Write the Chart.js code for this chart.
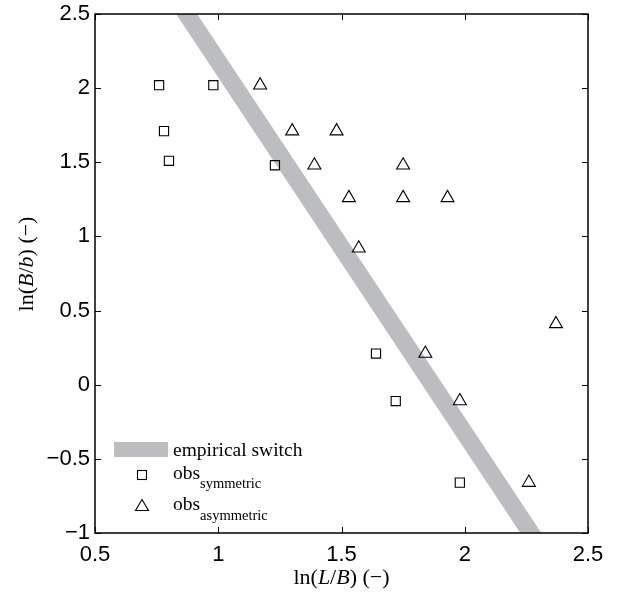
<!DOCTYPE html>
<html lang="en">
<head>
  <meta charset="UTF-8">
  <title>ln(B/b) vs ln(L/B)</title>
  <script src="https://cdn.jsdelivr.net/npm/chart.js"></script>
  <style>
    html, body { margin: 0; padding: 0; background: #fff; }
    #wrap { width: 620px; height: 594px; position: relative; }
  </style>
</head>
<body>
  <div id="wrap"><canvas id="chart"></canvas></div>
  <script>
    // empirical switch band (straight line, clipped by the axes)
    const bandX = [0.752, 2.388];
    const bandY = [2.8, -1.3];

    // observations, symmetric (squares)
    const symX = [0.76, 0.98, 0.78, 0.80, 1.23, 1.64, 1.72, 1.98];
    const symY = [2.02, 2.02, 1.71, 1.51, 1.48, 0.21, -0.11, -0.66];

    // observations, asymmetric (triangles)
    const asymX = [1.17, 1.30, 1.48, 1.39, 1.53, 1.75, 1.75, 1.93, 1.57, 2.37, 1.84, 1.98, 2.26];
    const asymY = [2.02, 1.71, 1.71, 1.48, 1.26, 1.48, 1.26, 1.26, 0.92, 0.41, 0.21, -0.11, -0.66];

    const xTicks = [0.5, 1, 1.5, 2, 2.5];
    const yTicks = [-1, -0.5, 0, 0.5, 1, 1.5, 2, 2.5];

    const bandColor = '#bcbdc0';
    const serif = '"Liberation Serif", "Times New Roman", serif';
    const sans = '"Liberation Sans", Arial, sans-serif';

    const toPts = (xs, ys) => xs.map((x, i) => ({ x: x, y: ys[i] }));
    const fmt = v => String(v).replace('-', '\u2212');

    // draw a string made of [text, italic] pieces, centred on (cx, cy)
    function drawRich(ctx, parts, cx, cy, size, angle) {
      ctx.save();
      ctx.translate(cx, cy);
      ctx.rotate(angle || 0);
      let total = 0;
      parts.forEach(p => {
        ctx.font = (p[1] ? 'italic ' : '') + size + 'px ' + serif;
        total += ctx.measureText(p[0]).width;
      });
      let x = -total / 2;
      ctx.textBaseline = 'middle';
      ctx.textAlign = 'left';
      ctx.fillStyle = '#000';
      parts.forEach(p => {
        ctx.font = (p[1] ? 'italic ' : '') + size + 'px ' + serif;
        ctx.fillText(p[0], x, 0);
        x += ctx.measureText(p[0]).width;
      });
      ctx.restore();
    }

    const framePlugin = {
      id: 'frame',
      afterDraw(chart) {
        const ctx = chart.ctx;
        const a = chart.chartArea;
        const sx = chart.scales.x, sy = chart.scales.y;
        ctx.save();
        ctx.strokeStyle = '#000';
        ctx.lineWidth = 1.5;
        ctx.strokeRect(a.left, a.top, a.right - a.left, a.bottom - a.top);
        ctx.lineWidth = 1;
        ctx.beginPath();
        xTicks.forEach(v => {
          const px = Math.round(sx.getPixelForValue(v)) + 0.5;
          ctx.moveTo(px, a.bottom); ctx.lineTo(px, a.bottom - 6);
          ctx.moveTo(px, a.top); ctx.lineTo(px, a.top + 6);
        });
        yTicks.forEach(v => {
          const py = Math.round(sy.getPixelForValue(v)) + 0.5;
          ctx.moveTo(a.left, py); ctx.lineTo(a.left + 6, py);
          ctx.moveTo(a.right, py); ctx.lineTo(a.right - 6, py);
        });
        ctx.stroke();

        // axis titles
        drawRich(ctx, [['ln(', false], ['L', true], ['/', false], ['B', true], [') (\u2212)', false]],
          (a.left + a.right) / 2, 578, 22, 0);
        drawRich(ctx, [['ln(', false], ['B', true], ['/', false], ['b', true], [') (\u2212)', false]],
          27, 264, 22, -Math.PI / 2);

        // legend
        const lx = 114, tx = 173;
        ctx.fillStyle = bandColor;
        ctx.fillRect(lx, 442, 54, 15);
        ctx.fillStyle = '#000';
        ctx.textBaseline = 'alphabetic';
        ctx.textAlign = 'left';
        ctx.font = '19.5px ' + serif;
        ctx.fillText('empirical switch', tx, 456);

        ctx.lineWidth = 1.1;
        ctx.strokeStyle = '#000';
        ctx.strokeRect(137.5, 470.5, 9, 9);
        ctx.fillText('obs', tx, 479);
        let w = ctx.measureText('obs').width;
        ctx.font = '14.5px ' + serif;
        ctx.fillText('symmetric', tx + w, 488);

        ctx.beginPath();
        ctx.moveTo(142, 499.5); ctx.lineTo(148.5, 510.5); ctx.lineTo(135.5, 510.5); ctx.closePath();
        ctx.stroke();
        ctx.font = '19.5px ' + serif;
        ctx.fillText('obs', tx, 510);
        ctx.font = '14.5px ' + serif;
        ctx.fillText('asymmetric', tx + w, 520);
        ctx.restore();
      }
    };

    new Chart(document.getElementById('chart'), {
      type: 'scatter',
      data: {
        datasets: [{
          label: 'empirical switch',
          type: 'line',
          data: toPts(bandX, bandY),
          borderColor: bandColor,
          borderWidth: 17.5,
          borderCapStyle: 'butt',
          pointRadius: 0,
          fill: false,
          order: 3
        }, {
          label: 'obs symmetric',
          data: toPts(symX, symY),
          pointStyle: 'rect',
          pointRadius: 6.5,
          pointHoverRadius: 6.5,
          borderColor: '#000',
          backgroundColor: 'rgba(0,0,0,0)',
          borderWidth: 1.1,
          order: 1
        }, {
          label: 'obs asymmetric',
          data: toPts(asymX, asymY),
          pointStyle: 'triangle',
          pointRadius: 7.5,
          pointHoverRadius: 7.5,
          borderColor: '#000',
          backgroundColor: 'rgba(0,0,0,0)',
          borderWidth: 1.1,
          order: 2
        }]
      },
      options: {
        responsive: true,
        maintainAspectRatio: false,
        animation: false,
        layout: { padding: { left: 0, right: 32, top: 14, bottom: 0 } },
        plugins: { legend: { display: false }, tooltip: { enabled: false } },
        scales: {
          x: {
            type: 'linear',
            min: 0.5, max: 2.5,
            afterBuildTicks: s => { s.ticks = xTicks.map(v => ({ value: v })); },
            afterFit: s => { s.height = 61; s.paddingLeft = 0; s.paddingRight = 0; },
            grid: { display: false, drawTicks: false, tickLength: 0 },
            border: { display: false },
            ticks: {
              padding: 9,
              color: '#000',
              font: { family: sans, size: 22 },
              maxRotation: 0,
              callback: v => fmt(v)
            }
          },
          y: {
            type: 'linear',
            min: -1, max: 2.5,
            afterBuildTicks: s => { s.ticks = yTicks.map(v => ({ value: v })); },
            afterFit: s => { s.width = 95; s.paddingTop = 0; s.paddingBottom = 0; },
            grid: { display: false, drawTicks: false, tickLength: 0 },
            border: { display: false },
            ticks: {
              padding: 5,
              color: '#000',
              font: { family: sans, size: 22 },
              callback: v => fmt(v)
            }
          }
        }
      },
      plugins: [framePlugin]
    });
  </script>
</body>
</html>
